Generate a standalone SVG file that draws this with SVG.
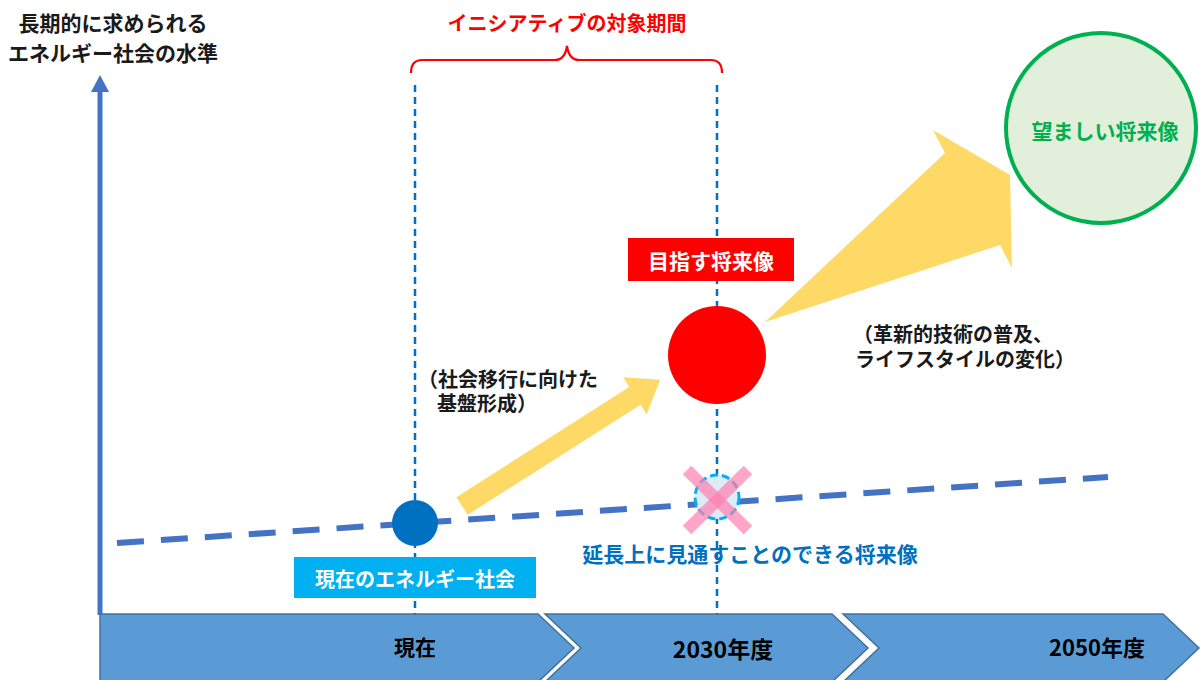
<svg xmlns="http://www.w3.org/2000/svg" width="1201" height="680" viewBox="0 0 1201 680">
<style>
text{font-family:"Noto Sans CJK JP","Noto Sans",sans-serif;font-weight:bold;}
.lbl{font-family:"Liberation Sans","Noto Sans CJK JP",sans-serif;font-size:20px;fill:#1a1a1a;}
.ctr{text-anchor:middle;dominant-baseline:central;}
.chev{fill:#5B9BD5;stroke:#41719C;stroke-width:1.5;}
.vline{stroke:#0070C0;stroke-width:2.5;stroke-dasharray:7,5;fill:none;}
.yellow{fill:#FFD966;}
</style>
<rect width="1201" height="680" fill="#ffffff"/>
<g id="timeline">
<path class="chev" d="M100,614 L538,614 L574,648 L538,682 L100,682 Z"/>
<path class="chev" d="M545,614 L832,614 L868,648 L832,682 L545,682 L581,648 Z"/>
<path class="chev" d="M843,614 L1163,614 L1199,648 L1163,682 L843,682 L879,648 Z"/>
<text class="ctr" x="415" y="646" font-size="21" fill="#000">現在</text>
<text class="ctr" x="723" y="648" font-size="23" fill="#000">2030年度</text>
<text class="ctr" x="1097" y="646" font-size="22" fill="#000">2050年度</text>
</g>
<g id="y-axis">
<rect x="97.5" y="90" width="5" height="525" fill="#4472C4"/>
<polygon points="91,92 109,92 100,75" fill="#4472C4"/>
<text class="ctr" x="113" font-size="21" fill="#1a1a1a"><tspan x="113" y="22">長期的に求められる</tspan><tspan x="113" y="52">エネルギー社会の水準</tspan></text>
</g>
<g id="period">
<text class="ctr" x="567" y="22" font-size="20" fill="#FF0000">イニシアティブの対象期間</text>
<path d="M411,73 Q411,60 422,60 L555,60 Q565,60 567,46 Q569,60 579,60 L711,60 Q722,60 722,73" fill="none" stroke="#FF0000" stroke-width="2.2"/>
</g>
<g id="connectors">
<line class="vline" x1="415" y1="85" x2="415" y2="614"/>
<line class="vline" x1="717" y1="85" x2="717" y2="614"/>
<line x1="117" y1="543" x2="1108" y2="477" stroke="#4472C4" stroke-width="6" stroke-dasharray="27,17"/>
<polygon class="yellow" transform="translate(462,506) rotate(-32.5)" points="0,-10.5 205,-10.5 205,-22 235,0 205,22 205,10.5 0,10.5"/>
<polygon class="yellow" points="765,322 945,153 933,130 1010,175 1012,268 1000,245"/>
</g>
<g id="current">
<circle cx="415" cy="523" r="23" fill="#0070C0"/>
<rect x="294" y="557" width="242" height="41" fill="#00B0F0"/>
<text class="ctr" x="415" y="578" font-size="20" fill="#ffffff">現在のエネルギー社会</text>
</g>
<g id="base-label">
<text class="lbl"><tspan x="418" y="387">（社会移行に向けた</tspan><tspan x="437" y="411">基盤形成）</tspan></text>
</g>
<g id="target">
<rect x="628" y="238" width="166" height="43" fill="#FF0000"/>
<text class="ctr" x="711" y="260" font-size="21" fill="#ffffff">目指す将来像</text>
<circle cx="717" cy="355" r="49" fill="#FF0000"/>
</g>
<g id="extrapolated">
<circle cx="717" cy="497" r="22" fill="#DEEBF7" stroke="#00B0F0" stroke-width="3" stroke-dasharray="8,4"/>
<line x1="687" y1="470" x2="748" y2="530" stroke="#FF7FB0" stroke-width="12" opacity="0.7"/>
<line x1="748" y1="470" x2="687" y2="530" stroke="#FF7FB0" stroke-width="12" opacity="0.7"/>
<text class="ctr" x="750" y="553" font-size="21" fill="#0070C0">延長上に見通すことのできる将来像</text>
</g>
<g id="innovation-label">
<text class="lbl"><tspan x="853" y="342">（革新的技術の普及、</tspan><tspan x="855" y="367">ライフスタイルの変化）</tspan></text>
</g>
<g id="desired">
<circle cx="1101" cy="128" r="95" fill="#E2EFDA" stroke="#00B050" stroke-width="4"/>
<text class="ctr" x="1105" y="130" font-size="21" fill="#00B050">望ましい将来像</text>
</g>
</svg>
